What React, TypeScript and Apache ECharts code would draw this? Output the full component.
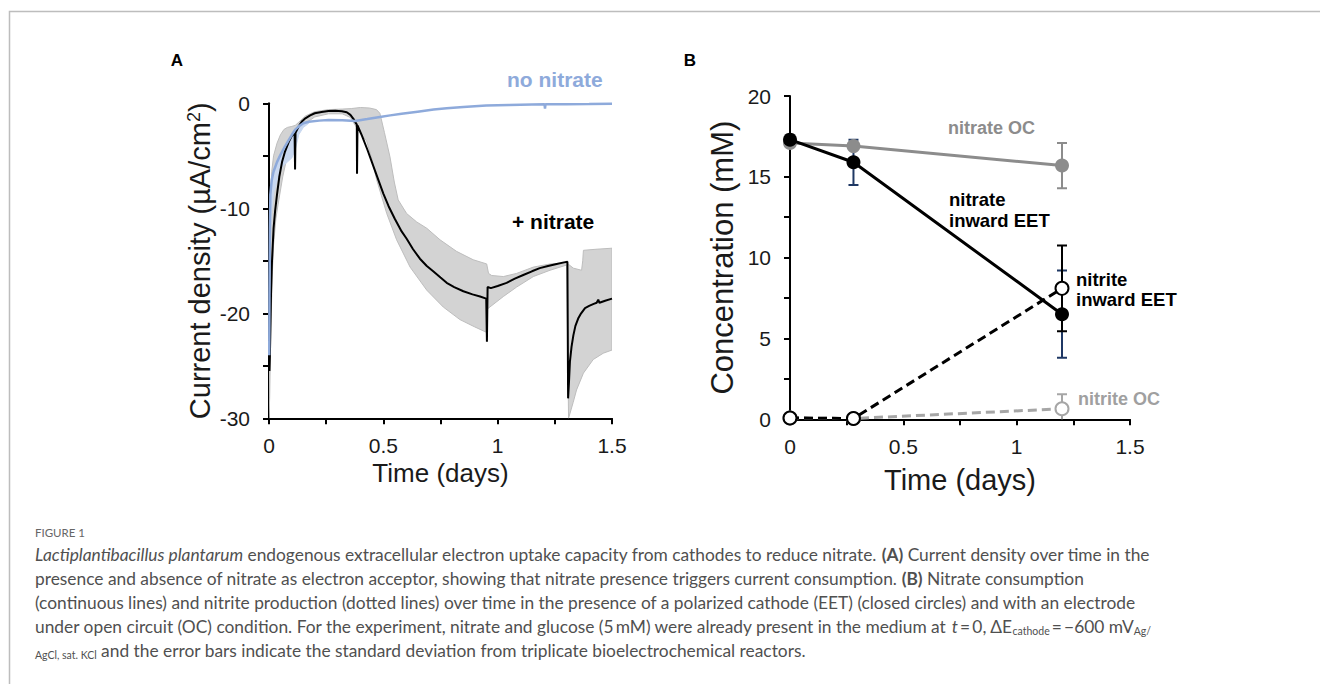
import React, { useEffect, useRef } from "react";
import * as echarts from "echarts";

const FONT = "'Liberation Sans', Arial, Helvetica, sans-serif";
const CAP_FONT = "Lato, 'Open Sans', sans-serif";

// ---------- Panel A: current density (t in days, µA/cm²) ----------
const xTicksA = [0, 0.5, 1, 1.5];
const yTicksA = [-30, -20, -10, 0];

const plusNitrateMean: [number, number][] = [
  [0.002, -25.5], [0.004, -24], [0.006, -21.4], [0.009, -18], [0.013, -15.1], [0.02, -11.9],
  [0.027, -10.2], [0.035, -8.7], [0.045, -7.0], [0.057, -5.6], [0.07, -4.6], [0.086, -3.7],
  [0.1, -3.1], [0.108, -2.9], [0.112, -3.0], [0.114, -6.3], [0.116, -2.8], [0.13, -2.2],
  [0.145, -1.7], [0.159, -1.43], [0.18, -1.15], [0.2, -0.95], [0.23, -0.82], [0.26, -0.73],
  [0.29, -0.7], [0.319, -0.75], [0.34, -0.85], [0.356, -1.1], [0.37, -1.5], [0.38, -1.9],
  [0.384, -2.0], [0.385, -6.7], [0.387, -2.1], [0.405, -3.0], [0.43, -4.4], [0.465, -6.5],
  [0.5, -8.6], [0.523, -9.8], [0.55, -11.0], [0.58, -12.2], [0.602, -12.9], [0.63, -13.9],
  [0.66, -14.8], [0.69, -15.5], [0.718, -16.0], [0.75, -16.6], [0.777, -17.1], [0.81, -17.5],
  [0.85, -17.9], [0.89, -18.2], [0.923, -18.4], [0.95, -18.6], [0.953, -22.7], [0.956, -17.5],
  [0.97, -17.6], [1.0, -17.4], [1.039, -17.1], [1.075, -16.7], [1.112, -16.35], [1.15, -16.0],
  [1.184, -15.7], [1.22, -15.5], [1.258, -15.3], [1.29, -15.15], [1.305, -15.1], [1.308, -28.1],
  [1.312, -26.5], [1.316, -24.6], [1.323, -23.2], [1.331, -22.1], [1.34, -21.2], [1.352, -20.5],
  [1.365, -20.0], [1.382, -19.5], [1.4, -19.3], [1.42, -19.1], [1.433, -19.0], [1.44, -18.7],
  [1.445, -19.0], [1.47, -18.8], [1.5, -18.6],
];

const noNitrateMean: [number, number][] = [
  [0.001, -24], [0.002, -18.3], [0.004, -12], [0.006, -8.7], [0.012, -7.3], [0.02, -6.5],
  [0.035, -5.6], [0.05, -4.9], [0.07, -4.1], [0.086, -3.5], [0.1, -3.0], [0.115, -2.5],
  [0.13, -2.2], [0.15, -1.9], [0.174, -1.75], [0.22, -1.65], [0.26, -1.6], [0.32, -1.62],
  [0.377, -1.69], [0.43, -1.5], [0.485, -1.3], [0.53, -1.15], [0.58, -1.0], [0.65, -0.8],
  [0.72, -0.6], [0.777, -0.48], [0.85, -0.35], [0.95, -0.22], [1.05, -0.16], [1.15, -0.12],
  [1.205, -0.1], [1.207, -0.5], [1.209, -0.1], [1.3, -0.08], [1.4, -0.07], [1.5, -0.05],
];

// light-blue spread of the no-nitrate replicates during the first hours
const noNitrateLowerSD: [number, number][] = [
  [0.004, -14], [0.01, -10.5], [0.02, -8.5], [0.04, -7.0], [0.06, -6.0], [0.08, -5.6],
  [0.1, -5.2], [0.115, -4.4], [0.13, -3.0], [0.15, -2.3], [0.174, -1.9],
];

const plusNitrateUpperSD: [number, number][] = [
  [0.0, -20], [0.003, -14], [0.006, -9], [0.012, -6.5], [0.02, -5.0], [0.035, -3.8],
  [0.05, -3.0], [0.065, -2.5], [0.08, -2.3], [0.1, -2.2], [0.115, -2.1], [0.13, -1.8],
  [0.16, -1.2], [0.2, -0.8], [0.26, -0.6], [0.32, -0.55], [0.36, -0.5], [0.4, -0.4],
  [0.44, -0.45], [0.47, -0.6], [0.485, -0.95], [0.505, -2.8], [0.529, -5.1], [0.548, -7.5],
  [0.565, -9.2], [0.602, -10.5], [0.646, -11.3], [0.69, -11.9], [0.748, -13.0], [0.82, -14.1],
  [0.893, -14.9], [0.952, -15.3], [0.96, -16.2], [0.974, -16.4], [1.025, -16.5], [1.083, -16.2],
  [1.156, -15.6], [1.23, -15.3], [1.302, -15.2], [1.331, -15.7], [1.367, -15.9], [1.372, -15.0],
  [1.375, -14.0], [1.43, -13.9], [1.5, -13.8],
];

const plusNitrateLowerSD: [number, number][] = [
  [0.0, -30], [0.003, -28], [0.006, -24], [0.01, -20], [0.015, -16], [0.02, -13.5],
  [0.03, -11], [0.04, -9.6], [0.06, -7.0], [0.08, -5.0], [0.1, -3.8], [0.115, -3.3],
  [0.13, -2.7], [0.16, -1.9], [0.2, -1.3], [0.26, -1.0], [0.32, -1.0], [0.356, -1.35],
  [0.38, -2.2], [0.4, -2.9], [0.427, -3.6], [0.45, -5.3], [0.471, -7.3], [0.515, -10.5],
  [0.558, -13.0], [0.617, -15.6], [0.69, -17.8], [0.762, -19.4], [0.835, -20.6], [0.9, -21.3],
  [0.95, -21.8], [0.955, -19.6], [0.966, -19.4], [1.025, -18.4], [1.083, -17.5], [1.156, -16.5],
  [1.229, -15.9], [1.302, -15.4], [1.31, -30], [1.33, -28.5], [1.345, -27.3], [1.375, -25.7],
  [1.418, -24.4], [1.462, -23.8], [1.5, -23.5],
];

// ---------- Panel B: concentrations (mM) ----------
const xTicksB = [0, 0.5, 1, 1.5];
const yTicksB = [0, 5, 10, 15, 20];
const timesB = [0, 0.28, 1.2];
const nitrateOC = [17.1, 16.9, 15.7];
const nitrateOCsd = [0, 0, 1.4];
const nitrateEET = [17.3, 15.9, 6.5];
const nitrateEETsd = [0, 1.4, 2.7];
const nitriteEET = [0.08, 0.05, 8.1];
const nitriteEETsd = [0, 0, 2.65];
const nitriteOC = [0.08, 0.05, 0.65];
const nitriteOCsd = [0, 0, 0.9];

const pair = (vals: number[]) => timesB.map((t, i) => [t, vals[i]]);
const errData = (vals: number[], sd: number[]) =>
  timesB.map((t, i) => [t, vals[i] - sd[i], vals[i] + sd[i]]).filter((_, i) => sd[i] > 0);

function errorBarSeries(vals: number[], sd: number[], color: string, z: number) {
  return {
    type: "custom",
    xAxisIndex: 1,
    yAxisIndex: 1,
    z,
    clip: true,
    silent: true,
    encode: { x: 0, y: [1, 2] },
    data: errData(vals, sd),
    renderItem: (_p: any, api: any) => {
      const x = api.value(0);
      const top = api.coord([x, api.value(2)]);
      const bot = api.coord([x, api.value(1)]);
      const w = 5;
      const st = { stroke: color, lineWidth: 2 };
      return {
        type: "group",
        children: [
          { type: "line", shape: { x1: top[0], y1: top[1], x2: bot[0], y2: bot[1] }, style: st },
          { type: "line", shape: { x1: top[0] - w, y1: top[1], x2: top[0] + w, y2: top[1] }, style: st },
          { type: "line", shape: { x1: bot[0] - w, y1: bot[1], x2: bot[0] + w, y2: bot[1] }, style: st },
        ],
      };
    },
  };
}

function bandSeries(poly: [number, number][], fill: string, stroke: string, z: number) {
  return {
    type: "custom", xAxisIndex: 0, yAxisIndex: 0, z, clip: true, silent: true,
    data: poly,
    renderItem: (params: any, api: any) => {
      if (params.dataIndex !== 0) return null;
      const pts = poly.map((p) => api.coord(p));
      return { type: "polygon", shape: { points: pts }, style: { fill, stroke, lineWidth: 1 } };
    },
  };
}

const axisCommon = () => ({
  axisLine: { show: true, onZero: false, lineStyle: { color: "#000", width: 2 } },
  axisTick: { show: true, length: 6, lineStyle: { color: "#000", width: 2 } },
  minorTick: { show: true, splitNumber: 2, length: 6, lineStyle: { color: "#000", width: 2 } },
  splitLine: { show: false },
});

const CAP_SIZE = 17.35;
const CAP_COLOR = "#505050";
const capRich = {
  i: { fontFamily: CAP_FONT, fontSize: CAP_SIZE, fontStyle: "italic", color: CAP_COLOR },
  b: { fontFamily: CAP_FONT, fontSize: CAP_SIZE, fontWeight: "bold", color: CAP_COLOR },
  sub: { fontFamily: CAP_FONT, fontSize: 10.5, color: CAP_COLOR, verticalAlign: "bottom", lineHeight: 10 },
  n: { fontFamily: CAP_FONT, fontSize: CAP_SIZE, color: CAP_COLOR, lineHeight: 21 },
};

const captionLines = [
  "{i|Lactiplantibacillus plantarum}{n| endogenous extracellular electron uptake capacity from cathodes to reduce nitrate. }{b|(A)}{n| Current density over time in the}",
  "{n|presence and absence of nitrate as electron acceptor, showing that nitrate presence triggers current consumption. }{b|(B)}{n| Nitrate consumption}",
  "{n|(continuous lines) and nitrite production (dotted lines) over time in the presence of a polarized cathode (EET) (closed circles) and with an electrode}",
  "{n|under open circuit (OC) condition. For the experiment, nitrate and glucose (5\u2009mM) were already present in the medium at }{i|t}{n|\u2009=\u20090, \u0394E}{sub|cathode}{n|\u2009=\u2009\u2212600 mV}{sub|Ag/}",
  "{sub|AgCl, sat. KCl}{n| and the error bars indicate the standard deviation from triplicate bioelectrochemical reactors.}",
];

function txt(x: number, y: number, text: string, fontSize: number, fill: string, weight = "bold", align = "left") {
  return {
    type: "text",
    x,
    y,
    silent: true,
    style: { text, fontFamily: FONT, fontSize, fontWeight: weight, fill, align, verticalAlign: "middle" },
  };
}

export default function App() {
  const ref = useRef<HTMLDivElement>(null);
  useEffect(() => {
    document.body.style.margin = "0";
    if (!ref.current) return;
    const chart = echarts.init(ref.current, undefined, { renderer: "svg" });

    const bandPolygon: [number, number][] = [...plusNitrateUpperSD, ...plusNitrateLowerSD.slice().reverse()];
    const blueSpread: [number, number][] = [
      ...noNitrateMean.filter((p) => p[0] >= 0.004 && p[0] <= 0.174),
      ...noNitrateLowerSD.slice().reverse(),
    ];

    const labelA = { fontFamily: FONT, fontSize: 21, color: "#1a1a1a" };

    const option: any = {
      animation: false,
      backgroundColor: "#fff",
      grid: [
        { left: 269, top: 103.3, width: 343, height: 315 },
        { left: 790, top: 96, width: 340, height: 323.3 },
      ],
      xAxis: [
        {
          gridIndex: 0, type: "value", min: xTicksA[0], max: xTicksA[xTicksA.length - 1], interval: 0.5,
          ...axisCommon(),
          axisLabel: { ...labelA, margin: 17 },
          name: "Time (days)", nameLocation: "middle", nameGap: 42,
          nameTextStyle: { fontFamily: FONT, fontSize: 26, color: "#1a1a1a" },
        },
        {
          gridIndex: 1, type: "value", min: xTicksB[0], max: xTicksB[xTicksB.length - 1], interval: 0.5,
          ...axisCommon(),
          axisLabel: { ...labelA, margin: 17 },
          name: "Time (days)", nameLocation: "middle", nameGap: 46,
          nameTextStyle: { fontFamily: FONT, fontSize: 29, color: "#1a1a1a" },
        },
      ],
      yAxis: [
        {
          gridIndex: 0, type: "value", min: yTicksA[0], max: yTicksA[yTicksA.length - 1], interval: 10,
          ...axisCommon(),
          axisLabel: { ...labelA, margin: 19 },
          name: "Current density (µA/cm{sup|2})", nameLocation: "middle", nameGap: 55,
          nameTextStyle: {
            fontFamily: FONT, fontSize: 29, color: "#1a1a1a",
            rich: { sup: { fontFamily: FONT, fontSize: 18, color: "#1a1a1a", verticalAlign: "top" } },
          },
        },
        {
          gridIndex: 1, type: "value", min: yTicksB[0], max: yTicksB[yTicksB.length - 1], interval: 5,
          ...axisCommon(),
          axisLabel: { ...labelA, margin: 19 },
          name: "Concentration (mM)", nameLocation: "middle", nameGap: 52,
          nameTextStyle: { fontFamily: FONT, fontSize: 31, color: "#1a1a1a" },
        },
      ],
      series: [
        bandSeries(bandPolygon, "#d3d3d3", "#bdbdbd", 1),
        bandSeries(blueSpread, "#c9d8f0", "#c9d8f0", 2),
        {
          type: "line", xAxisIndex: 0, yAxisIndex: 0, z: 3, data: plusNitrateMean, showSymbol: false,
          lineStyle: { color: "#000", width: 2 }, silent: true,
        },
        {
          type: "line", xAxisIndex: 0, yAxisIndex: 0, z: 4, data: noNitrateMean, showSymbol: false,
          lineStyle: { color: "#8eaadb", width: 2.5 }, silent: true,
        },
        errorBarSeries(nitrateOC, nitrateOCsd, "#8c8c8c", 2),
        errorBarSeries(nitriteOC, nitriteOCsd, "#a6a6a6", 2),
        errorBarSeries(nitrateEET, nitrateEETsd, "#1f3864", 2),
        errorBarSeries(nitriteEET, nitriteEETsd, "#000", 3),
        {
          type: "line", xAxisIndex: 1, yAxisIndex: 1, z: 4, data: pair(nitrateOC), symbol: "circle",
          symbolSize: 14, showAllSymbol: true, silent: true,
          lineStyle: { color: "#8c8c8c", width: 3 },
          itemStyle: { color: "#8c8c8c", borderColor: "#8c8c8c", borderWidth: 0 },
        },
        {
          type: "line", xAxisIndex: 1, yAxisIndex: 1, z: 5, data: pair(nitriteOC), symbol: "circle",
          symbolSize: 13, showAllSymbol: true, silent: true,
          lineStyle: { color: "#a6a6a6", width: 3, type: [9, 5] },
          itemStyle: { color: "#fff", borderColor: "#a6a6a6", borderWidth: 2 },
        },
        {
          type: "line", xAxisIndex: 1, yAxisIndex: 1, z: 6, data: pair(nitriteEET), symbol: "circle",
          symbolSize: 13, showAllSymbol: true, silent: true,
          lineStyle: { color: "#000", width: 3, type: [9, 5] },
          itemStyle: { color: "#fff", borderColor: "#000", borderWidth: 2 },
        },
        {
          type: "line", xAxisIndex: 1, yAxisIndex: 1, z: 7, data: pair(nitrateEET), symbol: "circle",
          symbolSize: 14, showAllSymbol: true, silent: true,
          lineStyle: { color: "#000", width: 3 },
          itemStyle: { color: "#000", borderColor: "#000", borderWidth: 0 },
        },
      ],
      graphic: [
        {
          type: "rect", silent: true, z: -1,
          shape: { x: 9.5, y: 11.5, width: 1400, height: 800 },
          style: { fill: "none", stroke: "#bdbdbd", lineWidth: 1.5 },
        },
        txt(177, 60, "A", 17, "#000", "bold", "center"),
        txt(690, 60, "B", 17, "#000", "bold", "center"),
        txt(507, 79, "no nitrate", 21, "#8eaadb"),
        txt(512, 221, "+ nitrate", 21, "#000"),
        txt(948, 128, "nitrate OC", 18, "#8c8c8c"),
        txt(949, 199, "nitrate", 18.5, "#000"),
        txt(949, 220, "inward EET", 18.5, "#000"),
        txt(1076, 279, "nitrite", 18.5, "#000"),
        txt(1076, 299, "inward EET", 18.5, "#000"),
        txt(1078, 399, "nitrite OC", 18, "#a0a0a0"),
        {
          type: "text", x: 35, y: 532, silent: true,
          style: { text: "FIGURE 1", fontFamily: CAP_FONT, fontSize: 11.5, fill: "#666", verticalAlign: "middle" },
        },
        ...captionLines.map((line, i) => ({
          type: "text", x: 35, y: 554 + i * 24, silent: true,
          style: {
            text: line, rich: capRich, fontFamily: CAP_FONT, fontSize: CAP_SIZE, fill: CAP_COLOR,
            verticalAlign: "middle", align: "left",
          },
        })),
      ],
    };
    chart.setOption(option);
    return () => chart.dispose();
  }, []);
  return <div ref={ref} style={{ width: 1320, height: 684 }} />;
}
